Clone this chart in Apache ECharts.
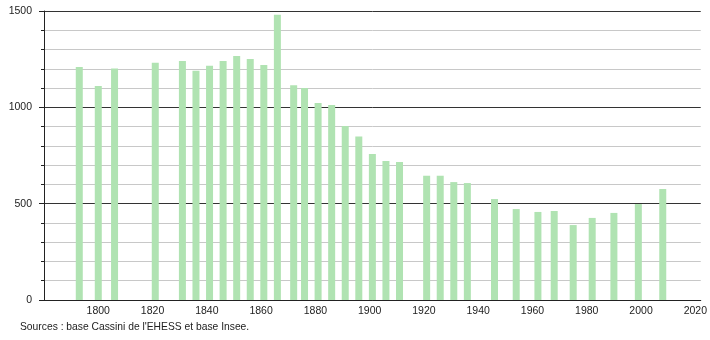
<!DOCTYPE html>
<html><head><meta charset="utf-8">
<script src="https://cdn.jsdelivr.net/npm/echarts@6/dist/echarts.min.js"></script>
<style>html,body{margin:0;padding:0;background:#fff}#c{width:710px;height:340px}</style>
</head><body><div id="c"></div>
<script>
const years = [1793,1800,1806,1821,1831,1836,1841,1846,1851,1856,1861,1866,1872,1876,1881,1886,1891,1896,1901,1906,1911,1921,1926,1931,1936,1946,1954,1962,1968,1975,1982,1990,1999,2008];
const population = [1209,1111,1202,1232,1240,1190,1216,1240,1266,1251,1220,1481,1114,1100,1022,1012,903,848,758,721,716,645,645,612,607,524,472,457,462,389,426,452,498,576];
const yTicks = [0,500,1000,1500];
const xTicks = [1800,1820,1840,1860,1880,1900,1920,1940,1960,1980,2000,2020];
const sourceText = "Sources : base Cassini de l'EHESS et base Insee.";

const chart = echarts.init(document.getElementById('c'), null, {renderer:'canvas'});
chart.setOption({
  animation:false,
  textStyle:{fontFamily:'Liberation Sans, Arial, sans-serif'},
  grid:{left:44,right:9,top:11,bottom:40},
  graphic:[{type:'text',left:20,top:322,style:{text:sourceText,fontSize:10.3,fill:'#222',fontFamily:'Liberation Sans, Arial, sans-serif'}}],
  xAxis:{type:'value',min:1780,max:2022,interval:20,
    axisLine:{show:true,lineStyle:{color:'#222',width:1}},
    axisTick:{show:false},
    splitLine:{show:false},
    axisLabel:{color:'#222',fontSize:10.5,margin:6,showMinLabel:false,showMaxLabel:false,
      formatter:v=>xTicks.includes(v)?String(v):''}
  },
  yAxis:{type:'value',min:0,max:1500,interval:500,
    axisLine:{show:true,lineStyle:{color:'#222',width:1}},
    axisTick:{show:true,length:5,lineStyle:{color:'#222'}},
    minorTick:{show:true,splitNumber:5,length:3,lineStyle:{color:'#222'}},
    splitLine:{show:true,lineStyle:{color:'#333',width:1}},
    minorSplitLine:{show:true,lineStyle:{color:'#c8c8c8',width:1}},
    axisLabel:{color:'#222',fontSize:10.5,margin:12,formatter:v=>yTicks.includes(v)?String(v):''}
  },
  series:[{type:'bar',barWidth:7,itemStyle:{color:'#b0e3b2'},
    data:years.map((y,i)=>[y,population[i]])}]
});
</script></body></html>
